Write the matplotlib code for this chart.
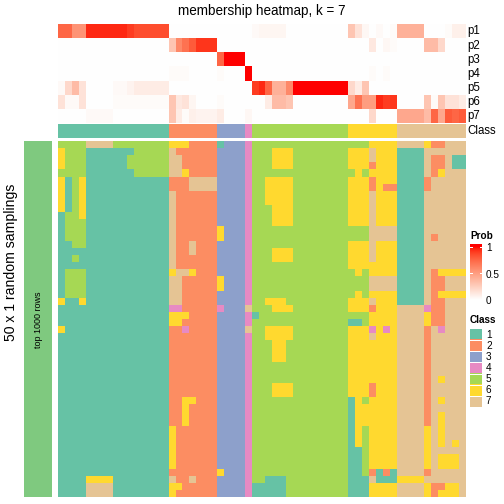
import numpy as np
import matplotlib
matplotlib.use("Agg")
import matplotlib.pyplot as plt
from matplotlib.colors import ListedColormap

plt.rcParams['font.family'] = ['Liberation Sans', 'DejaVu Sans']

# ---------------- data ----------------
title = "membership heatmap, k = 7"
row_title = "50 x 1 random samplings"
left_label = "top 1000 rows"
prob_names = ["p1", "p2", "p3", "p4", "p5", "p6", "p7"]
class_labels = ["1", "2", "3", "4", "5", "6", "7"]
class_colors = ["#66C2A5", "#FC8D62", "#8DA0CB", "#E78AC3", "#A6D854", "#FFD92F", "#E5C494"]
left_bar_color = "#7FC97F"
legend_ticks = [0, 0.5, 1]
legend_tick_labels = ["0", "0.5", "1"]

# consensus class of each column (59 columns)
column_class = "1111111111111111 2222222 3333 4 55555555555555 6666666 7777777777"

p1 = [0.75, 0.75, 0.55, 0.55, 0.95, 0.95, 0.95, 0.95, 0.95, 0.95, 0.9, 0.85, 0.85, 0.85, 0.85, 0.85,
      0, 0, 0, 0, 0, 0, 0, 0, 0, 0, 0, 0,
      0.03, 0.05, 0.05, 0.05, 0.05,
      0, 0, 0, 0, 0, 0, 0, 0, 0,
      0.3, 0.15, 0.04, 0, 0.03, 0, 0.02,
      0.4, 0.4, 0.4, 0.4,
      0, 0, 0, 0.02, 0.08, 0.08]
p2 = [0, 0, 0, 0, 0, 0, 0, 0, 0, 0, 0, 0, 0, 0, 0, 0,
      0.3, 0.6, 0.7, 0.8, 0.92, 0.92, 0.92,
      0, 0, 0, 0, 0, 0, 0, 0, 0, 0, 0, 0, 0, 0, 0, 0, 0, 0, 0, 0, 0, 0,
      0.12, 0, 0.04, 0.02,
      0, 0, 0, 0,
      0.35, 0.35, 0.2, 0, 0, 0]
p3 = [0, 0, 0, 0, 0, 0, 0, 0, 0, 0, 0, 0, 0, 0, 0, 0, 0, 0, 0, 0, 0, 0, 0,
      0.75, 1, 1, 1,
      0, 0, 0, 0, 0, 0, 0, 0, 0, 0, 0, 0, 0, 0, 0, 0, 0, 0, 0, 0, 0, 0, 0, 0, 0, 0, 0, 0, 0, 0, 0, 0]
p4 = [0, 0, 0, 0, 0, 0, 0, 0, 0, 0, 0, 0, 0, 0, 0, 0,
      0.02, 0.02, 0.02, 0, 0, 0, 0,
      0.02, 0, 0, 0,
      1.0,
      0, 0, 0, 0, 0, 0, 0, 0, 0, 0, 0, 0, 0, 0, 0, 0, 0,
      0.02, 0, 0.02,
      0, 0, 0, 0, 0, 0, 0, 0, 0, 0, 0]
p5 = [0.03, 0.2, 0.35, 0.15, 0, 0, 0, 0, 0.03, 0.03, 0.06, 0.1, 0.1, 0.1, 0.1, 0.1,
      0, 0, 0, 0, 0, 0, 0, 0, 0, 0, 0, 0,
      0.9, 0.95, 0.75, 0.4, 0.4, 0.6,
      1, 1, 1, 1, 1, 1, 1, 1,
      0.2, 0.1, 0.3,
      0, 0, 0, 0, 0, 0, 0, 0, 0, 0, 0, 0, 0, 0]
p6 = [0.15, 0.03, 0.03, 0.15, 0, 0, 0, 0, 0.02, 0.02, 0.02, 0.02, 0.02, 0.02, 0.02, 0.02,
      0.3, 0.12, 0.15, 0.05, 0, 0, 0,
      0.02, 0, 0, 0, 0, 0, 0,
      0.1, 0.35, 0.35, 0.3,
      0, 0, 0, 0, 0, 0, 0, 0,
      0.45, 0.7, 0.5, 0.5, 0.95, 0.9, 0.92,
      0, 0, 0, 0,
      0.3, 0.02, 0.3, 0.15, 0.15, 0.1]
p7 = [0, 0, 0, 0, 0.03, 0.03, 0.03, 0.03, 0, 0, 0, 0, 0, 0, 0, 0,
      0.3, 0.1, 0.02, 0.08, 0.06, 0.06, 0.06, 0.1,
      0, 0, 0,
      0.04,
      0, 0, 0, 0, 0, 0, 0, 0, 0, 0, 0, 0, 0, 0, 0, 0, 0,
      0.2, 0, 0, 0,
      0.45, 0.45, 0.45, 0.45,
      0.35, 0.75, 0.45, 0.8, 0.75, 0.8]

# class assigned in each of the 50 random samplings (rows) for each column
sampling_classes = [
    "5555777755555555 6662222 1333 4 55555555555555 555 6666 7777 622777",
    "6555111111155555 7222222 3333 4 55566655555555 666 7666 1111 777777",
    "6555111111555555 7722222 3333 4 55566655555555 666 7666 1111 722711",
    "6555111111555555 7722222 3333 4 55566655555555 666 2666 1111 722711",
    "5555111111155555 7762222 3333 4 55555555555555 565 6666 1111 726777",
    "6156111111111111 2227777 3333 4 55666655555555 666 2666 1111 277777",
    "6156111111111111 2227777 3333 4 55666655555555 666 2622 1111 277777",
    "6156111111111111 7222222 3333 4 55666655555555 666 7666 1111 777777",
    "6156111111111111 7222222 3333 4 55666655555555 666 7666 1111 777777",
    "6156111111111111 7222222 3333 4 55566655555555 666 7666 1111 777777",
    "1556111111111111 7222222 3333 4 55566655555555 666 7666 1111 777777",
    "1555111111111111 7222222 3333 4 55566655555555 666 7666 1111 777777",
    "1555111111111111 7222222 6333 4 55555555555555 555 7777 1111 777777",
    "1555111111111111 7222222 6333 4 55555555555555 555 7777 1111 727777",
    "1155111111111111 7227222 3333 4 55555555555555 666 7666 1111 777777",
    "1111111111111111 7227222 3333 4 55566655555555 666 7666 1111 777777",
    "1151111111111111 7222222 3333 4 55566655555555 666 7666 1111 777777",
    "1111111111111111 7222222 3333 4 55555555555555 666 6666 1111 777777",
    "1555111111111111 6776222 3333 4 55555555555555 565 6666 1111 726666",
    "1555111111111111 7722222 6333 4 55555555555555 555 7777 1111 722777",
    "1555111111111111 7722222 6333 4 55555555555555 555 7777 1111 722777",
    "1555111111111111 7722222 3333 4 55555555555555 565 6666 1111 726666",
    "6116111111111111 7722222 3333 4 55666555555555 666 7666 1111 722777",
    "1111111111111111 4422222 4333 7 55566655555555 666 2666 7777 422777",
    "1111111111111111 6662222 3333 4 15555555555555 555 6666 7777 622777",
    "1111111111111111 6622222 3333 4 55555555555555 115 6666 7777 622777",
    "6111111111111111 2242222 3333 7 55666655555555 666 4646 7777 274777",
    "1111111111111111 2222222 3333 4 55666655555555 666 7666 7777 277777",
    "1111111111111111 2222222 3333 4 55566555555555 666 6666 7777 277777",
    "1111111111111111 2222222 3333 4 55566555555555 666 6666 7777 277777",
    "1111111111111111 2222222 3333 4 55566555555555 666 6666 7777 277777",
    "1111111111111111 2222222 3333 4 55555555555555 666 6666 7777 277777",
    "1111111111111111 2222222 3333 4 55555555555555 666 6666 7777 277777",
    "1111111111111111 2222222 3333 4 55555555555555 666 6666 7777 276777",
    "1111111111111111 2222222 3333 4 55566655555555 666 2666 7777 277777",
    "1111111111111111 2222222 3333 4 55566655555555 666 2666 7777 277777",
    "1111111111111111 2266222 3333 4 55555555555555 165 6666 7777 276777",
    "1111111111111111 2262222 3333 4 55555555555555 166 6666 7777 277777",
    "1111111111111111 2262222 3333 4 55555555555555 166 6666 7777 276777",
    "1111111111111111 2262222 3333 4 55555555555555 166 6666 7777 276777",
    "1111111111111111 6222222 3333 4 55555555555555 165 6666 7777 676777",
    "1111111111111111 6222222 3333 4 55555555555555 165 6666 7777 676777",
    "1111111111111111 6222222 3333 4 55555555555555 165 6666 7777 676767",
    "1111111111111111 6222222 3333 4 55555555555555 115 6666 7777 677777",
    "1111111111111111 6222222 3333 4 55555555555555 115 6666 7777 676667",
    "1111111111111111 6222222 3333 4 55555555555555 115 6666 7777 676667",
    "1111111111111111 2222222 6333 4 55555555555555 115 2121 7777 277777",
    "1111666611111111 7227222 3333 4 55111555555555 111 7111 6666 777777",
    "1111777711111111 6622222 3333 4 11111555555555 111 6666 7777 622667",
    "1111777711111111 6222222 3333 4 11111555555555 111 6666 7777 626667",
]

# ---------------- helpers ----------------
def to_int_row(s):
    s = s.replace(" ", "")
    assert len(s) == 59, len(s)
    return [int(ch) for ch in s]

mat = np.array([to_int_row(r) for r in sampling_classes])
col_cls = np.array([to_int_row(column_class)])
prob = np.array([p1, p2, p3, p4, p5, p6, p7], dtype=float)

def srgb_to_lab(rgb):
    rgb = np.asarray(rgb, float)
    lin = np.where(rgb <= 0.04045, rgb / 12.92, ((rgb + 0.055) / 1.055) ** 2.4)
    M = np.array([[0.4124, 0.3576, 0.1805], [0.2126, 0.7152, 0.0722], [0.0193, 0.1192, 0.9505]])
    xyz = M @ lin
    xyz = xyz / np.array([0.95047, 1.0, 1.08883])
    f = np.where(xyz > 0.008856, np.cbrt(xyz), 7.787 * xyz + 16 / 116)
    return np.array([116 * f[1] - 16, 500 * (f[0] - f[1]), 200 * (f[1] - f[2])])

def lab_to_srgb(lab):
    L, a, b = lab
    fy = (L + 16) / 116
    fx = fy + a / 500
    fz = fy - b / 200
    f = np.array([fx, fy, fz])
    xyz = np.where(f ** 3 > 0.008856, f ** 3, (f - 16 / 116) / 7.787)
    xyz = xyz * np.array([0.95047, 1.0, 1.08883])
    Minv = np.array([[3.2406, -1.5372, -0.4986], [-0.9689, 1.8758, 0.0415], [0.0557, -0.2040, 1.0570]])
    lin = np.clip(Minv @ xyz, 0, 1)
    rgb = np.where(lin <= 0.0031308, 12.92 * lin, 1.055 * lin ** (1 / 2.4) - 0.055)
    return np.clip(rgb, 0, 1)

lab_w = srgb_to_lab([1, 1, 1])
lab_r = srgb_to_lab([1, 0, 0])
prob_cmap = ListedColormap([lab_to_srgb(lab_w + (lab_r - lab_w) * t) for t in np.linspace(0, 1, 256)])
class_cmap = ListedColormap(class_colors)

W = H = 504
fig = plt.figure(figsize=(7, 7), dpi=72)

def add_ax(x0, y0, x1, y1):
    ax = fig.add_axes([x0 / W, 1 - y1 / H, (x1 - x0) / W, (y1 - y0) / H])
    ax.set_axis_off()
    return ax

HX0, HX1 = 57.7, 464.8

# top probability rows
ax_p = add_ax(HX0, 24.3, HX1, 123.3)
ax_p.imshow(prob, cmap=prob_cmap, vmin=0, vmax=1, aspect='auto', interpolation='nearest')

# class annotation
ax_c = add_ax(HX0, 124.0, HX1, 137.7)
ax_c.imshow(col_cls, cmap=class_cmap, vmin=0.5, vmax=7.5, aspect='auto', interpolation='nearest')

# main heatmap
ax_m = add_ax(HX0, 141.0, HX1, 497.0)
ax_m.imshow(mat, cmap=class_cmap, vmin=0.5, vmax=7.5, aspect='auto', interpolation='nearest')

# left annotation bar
ax_l = add_ax(24.0, 141.0, 52.0, 497.0)
ax_l.imshow(np.zeros((mat.shape[0], 1)), cmap=ListedColormap([left_bar_color]), aspect='auto')

# overlay axes for text in pixel coordinates
ax_t = fig.add_axes([0, 0, 1, 1])
ax_t.set_xlim(0, W)
ax_t.set_ylim(H, 0)
ax_t.set_axis_off()
ax_t.patch.set_alpha(0)

ax_t.text(262, 10.5, title, ha='center', va='center', fontsize=13.5)
ax_t.text(11, 262, row_title, ha='center', va='center', rotation=90, fontsize=14)
ax_t.text(38.5, 320, left_label, ha='center', va='center', rotation=90, fontsize=9)

row_h = (123.3 - 24.3) / len(prob_names)
for i, nm in enumerate(prob_names):
    ax_t.text(467, 24.3 + row_h * (i + 0.5), nm, ha='left', va='center', fontsize=11.5)
ax_t.text(467, 131, "Class", ha='left', va='center', fontsize=11.5)

# Prob legend
ax_t.text(470, 236, "Prob", ha='left', va='center', fontsize=10, fontweight='bold')
ax_cb = add_ax(470, 244, 482, 300)
grad = np.linspace(1.05, 0, 120).reshape(-1, 1)
ax_cb.imshow(grad, cmap=prob_cmap, vmin=0, vmax=1, aspect='auto', extent=[0, 1, 0, 1.05])
ax_cb.set_xlim(0, 1)
ax_cb.set_ylim(0, 1.05)
for v in legend_ticks[1:]:
    ax_cb.plot([0, 0.2], [v, v], color='white', lw=1)
    ax_cb.plot([0.8, 1], [v, v], color='white', lw=1)
for v, lab in zip(legend_ticks, legend_tick_labels):
    ax_t.text(486, 301 - v * 53, lab, ha='left', va='center', fontsize=10)

# Class legend
ax_t.text(470, 320, "Class", ha='left', va='center', fontsize=10, fontweight='bold')
ax_cl = add_ax(470, 329, 482, 407)
ax_cl.imshow(np.arange(1, 8).reshape(-1, 1), cmap=class_cmap, vmin=0.5, vmax=7.5, aspect='auto',
             interpolation='nearest')
for k in range(1, 7):
    ax_cl.axhline(k - 0.5, color='white', lw=1)
box_h = (407 - 329) / 7
for i, lab in enumerate(class_labels):
    ax_t.text(486, 329 + box_h * (i + 0.5), lab, ha='left', va='center', fontsize=10)

fig.savefig("out.png", dpi=72)
